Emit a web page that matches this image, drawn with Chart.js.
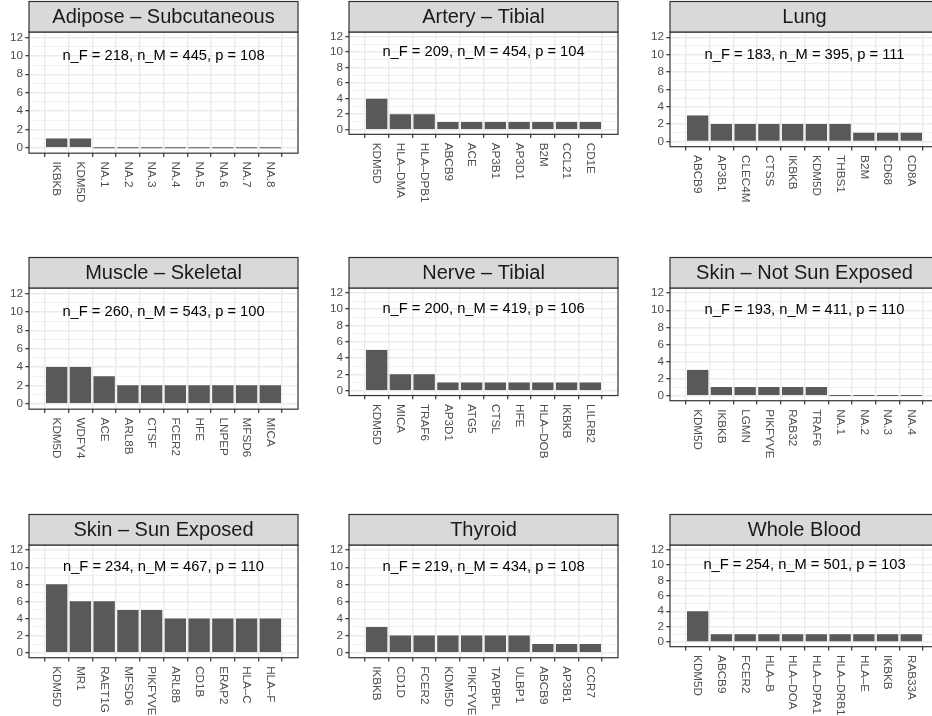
<!DOCTYPE html>
<html>
<head>
<meta charset="utf-8">
<script src="https://cdn.jsdelivr.net/npm/chart.js@4.4.1/dist/chart.umd.min.js"></script>
<style>
  body { margin: 0; background: #fff; }
  #wrap { position: relative; width: 932px; height: 716px; overflow: hidden; background: #fff; }
  .cell { position: absolute; }
</style>
</head>
<body>
<div id="wrap"></div>
<script>
// panel titles and the per-tissue sample numbers
const tissues = ["Adipose – Subcutaneous", "Artery – Tibial", "Lung",
  "Muscle – Skeletal", "Nerve – Tibial", "Skin – Not Sun Exposed",
  "Skin – Sun Exposed", "Thyroid", "Whole Blood"];
const nF = [218, 209, 183, 260, 200, 193, 234, 219, 254];
const nM = [445, 454, 395, 543, 419, 411, 467, 434, 501];
const pGenes = [108, 104, 111, 100, 106, 110, 110, 108, 103];

const adiposeGenes = ["IKBKB", "KDM5D", "NA.1", "NA.2", "NA.3", "NA.4", "NA.5", "NA.6", "NA.7", "NA.8"];
const adiposeCounts = [1, 1, 0, 0, 0, 0, 0, 0, 0, 0];
const arteryGenes = ["KDM5D", "HLA–DMA", "HLA–DPB1", "ABCB9", "ACE", "AP3B1", "AP3D1", "B2M", "CCL21", "CD1E"];
const arteryCounts = [4, 2, 2, 1, 1, 1, 1, 1, 1, 1];
const lungGenes = ["ABCB9", "AP3B1", "CLEC4M", "CTSS", "IKBKB", "KDM5D", "THBS1", "B2M", "CD68", "CD8A"];
const lungCounts = [3, 2, 2, 2, 2, 2, 2, 1, 1, 1];
const muscleGenes = ["KDM5D", "WDFY4", "ACE", "ARL8B", "CTSF", "FCER2", "HFE", "LNPEP", "MFSD6", "MICA"];
const muscleCounts = [4, 4, 3, 2, 2, 2, 2, 2, 2, 2];
const nerveGenes = ["KDM5D", "MICA", "TRAF6", "AP3D1", "ATG5", "CTSL", "HFE", "HLA–DOB", "IKBKB", "LILRB2"];
const nerveCounts = [5, 2, 2, 1, 1, 1, 1, 1, 1, 1];
const skinNotSunGenes = ["KDM5D", "IKBKB", "LGMN", "PIKFYVE", "RAB32", "TRAF6", "NA.1", "NA.2", "NA.3", "NA.4"];
const skinNotSunCounts = [3, 1, 1, 1, 1, 1, 0, 0, 0, 0];
const skinSunGenes = ["KDM5D", "MR1", "RAET1G", "MFSD6", "PIKFYVE", "ARL8B", "CD1B", "ERAP2", "HLA–C", "HLA–F"];
const skinSunCounts = [8, 6, 6, 5, 5, 4, 4, 4, 4, 4];
const thyroidGenes = ["IKBKB", "CD1D", "FCER2", "KDM5D", "PIKFYVE", "TAPBPL", "ULBP1", "ABCB9", "AP3B1", "CCR7"];
const thyroidCounts = [3, 2, 2, 2, 2, 2, 2, 1, 1, 1];
const bloodGenes = ["KDM5D", "ABCB9", "FCER2", "HLA–B", "HLA–DOA", "HLA–DPA1", "HLA–DRB1", "HLA–E", "IKBKB", "RAB33A"];
const bloodCounts = [4, 1, 1, 1, 1, 1, 1, 1, 1, 1];

const yMax = 12;

const panels = [
  [adiposeGenes, adiposeCounts], [arteryGenes, arteryCounts], [lungGenes, lungCounts],
  [muscleGenes, muscleCounts], [nerveGenes, nerveCounts], [skinNotSunGenes, skinNotSunCounts],
  [skinSunGenes, skinSunCounts], [thyroidGenes, thyroidCounts], [bloodGenes, bloodCounts]
];

const FONT = '"Liberation Sans", Arial, Helvetica, sans-serif';
const W = 320, H = 205;
const colLeft = [0, 320, 641];
const rowTop = [0, 256, 513];

// measure rotated label length so the plot shrinks like ggplot does
const mctx = document.createElement("canvas").getContext("2d");
mctx.font = "11.7px " + FONT;

// strip, border, annotation and the top-to-bottom x labels
const panelPlugin = {
  id: "panel",
  afterDraw(chart, args, opts) {
    const ctx = chart.ctx;
    const a = chart.chartArea;
    const xs = chart.scales.x, ys = chart.scales.y;
    ctx.save();
    ctx.fillStyle = "#4D4D4D";
    ctx.font = "11.7px " + FONT;
    ctx.textAlign = "left";
    ctx.textBaseline = "middle";
    opts.genes.forEach((g, i) => {
      ctx.save();
      ctx.translate(xs.getPixelForValue(i), a.bottom + 8.4);
      ctx.rotate(Math.PI / 2);
      ctx.fillText(g, 0, 0);
      ctx.restore();
    });

    ctx.fillStyle = "#000";
    ctx.font = "14.7px " + FONT;
    ctx.textAlign = "center";
    ctx.fillText(opts.note, (a.left + a.right) / 2, ys.getPixelForValue(10));

    ctx.strokeStyle = "#333333";
    ctx.lineWidth = 1.2;
    ctx.strokeRect(a.left, a.top, a.right - a.left, a.bottom - a.top);

    ctx.fillStyle = "#D9D9D9";
    ctx.fillRect(a.left, 1.5, a.right - a.left, a.top - 1.5);
    ctx.strokeRect(a.left, 1.5, a.right - a.left, a.top - 1.5);
    ctx.fillStyle = "#1A1A1A";
    ctx.font = "20px " + FONT;
    ctx.fillText(opts.title, (a.left + a.right) / 2, (1.5 + a.top) / 2 + 1);
    ctx.restore();
  }
};

const wrap = document.getElementById("wrap");

panels.forEach(([genes, counts], k) => {
  const div = document.createElement("div");
  div.className = "cell";
  div.style.left = colLeft[k % 3] + "px";
  div.style.top = rowTop[Math.floor(k / 3)] + "px";
  const canvas = document.createElement("canvas");
  canvas.width = W;
  canvas.height = H;
  canvas.style.width = W + "px";
  canvas.style.height = H + "px";
  div.appendChild(canvas);
  wrap.appendChild(div);

  const labelW = Math.max(...genes.map(g => mctx.measureText(g).width));
  const plotBottom = 202.5 - labelW - 8.4;
  const xAxisH = H - plotBottom;

  new Chart(canvas, {
    type: "bar",
    data: {
      datasets: [{
        data: counts.map((v, i) => ({ x: i, y: v })),
        backgroundColor: "#595959",
        barPercentage: 0.9,
        categoryPercentage: 1,
        minBarLength: 1
      }]
    },
    options: {
      animation: false,
      responsive: false,
      events: [],
      layout: { padding: { top: 32, right: 22, left: 0, bottom: 0 } },
      plugins: {
        legend: { display: false },
        tooltip: { enabled: false },
        panel: {
          genes: genes,
          title: tissues[k],
          note: "n_F = " + nF[k] + ", n_M = " + nM[k] + ", p = " + pGenes[k]
        }
      },
      scales: {
        x: {
          type: "linear",
          min: -0.6,
          max: genes.length - 0.4,
          ticks: { display: false, stepSize: 1, includeBounds: false, autoSkip: false },
          grid: { color: "#EBEBEB", lineWidth: 1.4, tickLength: 3.7, tickColor: "#333333", tickWidth: 1.2 },
          border: { display: false },
          afterFit: s => { s.height = xAxisH; }
        },
        y: {
          min: -0.6,
          max: yMax + 0.6,
          ticks: {
            stepSize: 1,
            includeBounds: false,
            autoSkip: false,
            padding: 2.4,
            color: "#4D4D4D",
            font: { family: FONT, size: 11.7 },
            callback: v => (v % 2 === 0 ? v : "")
          },
          grid: {
            color: "#EBEBEB",
            lineWidth: c => (c.tick && c.tick.value % 2 === 0 ? 1.4 : 0.7),
            tickLength: 3.7,
            tickColor: c => (c.tick && c.tick.value % 2 === 0 ? "#333333" : "rgba(0,0,0,0)"),
            tickWidth: 1.2
          },
          border: { display: false },
          afterFit: s => { s.width = 29; }
        }
      }
    },
    plugins: [panelPlugin]
  });
});
</script>
</body>
</html>
